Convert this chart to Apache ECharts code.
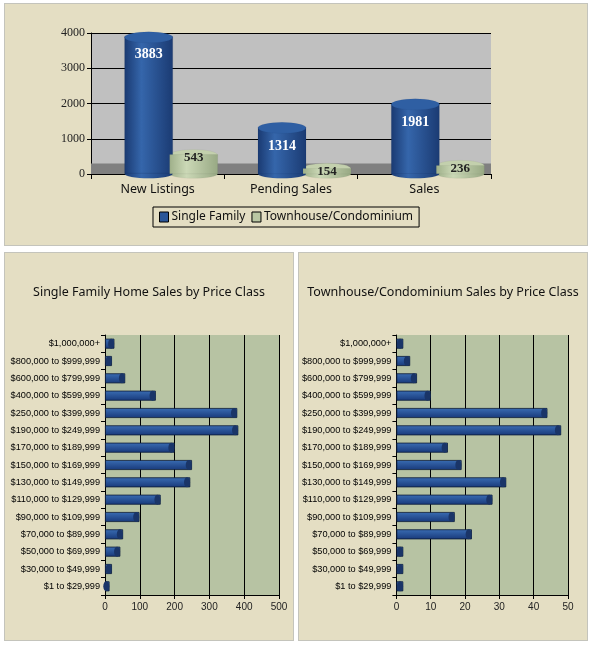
<!DOCTYPE html>
<html lang="en">
<head>
    <meta charset="UTF-8">
    <title>sales</title>
    <style>
        body { margin: 0; background: #fff; width: 591px; height: 646px; position: relative; overflow: hidden; }
        .panel { position: absolute; background: #e4dec3; border: 1px solid #c4c4bc; box-sizing: border-box; }
        .panel div { width: 100%; height: 100%; }
    </style>
</head>
<body>
<div class="panel" style="left:4px;top:3px;width:584px;height:243px;"><div id="top"></div></div>
<div class="panel" style="left:4px;top:252px;width:290px;height:389px;"><div id="left"></div></div>
<div class="panel" style="left:298px;top:252px;width:290px;height:389px;"><div id="right"></div></div>
</body>
<script src="https://cdn.jsdelivr.net/npm/echarts@6/dist/echarts.min.js"></script>
<script>

// --- data ---
const summaryCats = ['New Listings', 'Pending Sales', 'Sales']
const singleFamily = [3883, 1314, 1981]
const townhouse = [543, 154, 236]

const priceClasses = [
    '$1,000,000+', '$800,000 to $999,999', '$600,000 to $799,999', '$400,000 to $599,999',
    '$250,000 to $399,999', '$190,000 to $249,999', '$170,000 to $189,999', '$150,000 to $169,999',
    '$130,000 to $149,999', '$110,000 to $129,999', '$90,000 to $109,999', '$70,000 to $89,999',
    '$50,000 to $69,999', '$30,000 to $49,999', '$1 to $29,999'
]
const sfByPrice = [27, 20, 58, 146, 380, 383, 200, 250, 245, 160, 99, 52, 44, 20, 13]
const thByPrice = [2, 4, 6, 10, 44, 48, 15, 19, 32, 28, 17, 22, 2, 2, 2]

const BLUE = '#2a5699'
const GREEN = '#b9c7a3'

// --- top chart ---
let topChart = echarts.init(document.getElementById('top'))

const blueBody = new echarts.graphic.LinearGradient(0, 0, 1, 0, [
    {offset: 0, color: '#1a3a72'},
    {offset: 0.35, color: '#3566ab'},
    {offset: 1, color: '#1b3b73'}
])
const greenBody = new echarts.graphic.LinearGradient(0, 0, 1, 0, [
    {offset: 0, color: '#9fb08a'},
    {offset: 0.35, color: '#cbd8b6'},
    {offset: 1, color: '#98a984'}
])

// the 3d look puts the bar pair a bit right of the category centre
const BLUE_SHIFT = -9
const GREEN_SHIFT = 36
const CYL = 48

function cylinder(name, values, shift, body, cap, edge, z) {
    return [
        {
            name: name, type: 'pictorialBar', data: values, barGap: '-100%',
            symbol: 'rect', symbolSize: [CYL, '100%'], symbolOffset: [shift, 0],
            itemStyle: {color: body, borderColor: edge, borderWidth: 0.8},
            z: z
        },
        {
            type: 'pictorialBar', data: values, barGap: '-100%', silent: true,
            symbol: 'circle', symbolSize: [CYL, 11], symbolPosition: 'end',
            symbolOffset: [shift, '-50%'],
            itemStyle: {color: cap, borderColor: edge, borderWidth: 0.8},
            z: z + 1
        },
        {
            type: 'pictorialBar', data: values, barGap: '-100%', silent: true,
            symbol: 'circle', symbolSize: [CYL, 9], symbolPosition: 'start',
            symbolOffset: [shift, '50%'],
            itemStyle: {color: body, borderColor: edge, borderWidth: 0.8},
            z: z - 1
        }
    ]
}

let topSeries = []
    .concat(cylinder('Single Family', singleFamily, BLUE_SHIFT, blueBody, '#2f5fa3', '#10264d', 6))
    .concat(cylinder('Townhouse/Condominium', townhouse, GREEN_SHIFT, greenBody, '#c3d0ad', '#333', 3))

topSeries[0].markArea = {silent: true, itemStyle: {color: '#808080'}, data: [[{yAxis: 0}, {yAxis: 300}]]}
topSeries[0].label = {show: true, position: 'insideTop', distance: 12, offset: [BLUE_SHIFT, 0], color: '#fff',
    fontFamily: 'Liberation Serif', fontWeight: 'bold', fontSize: 14}
topSeries[3].label = {show: true, position: 'top', distance: -10, offset: [GREEN_SHIFT, 0], color: '#222',
    fontFamily: 'Liberation Serif', fontWeight: 'bold', fontSize: 13}
topSeries[3].z = 10

let topOption = {
    animation: false,
    grid: {left: 86, top: 29, width: 400, height: 141, show: true, backgroundColor: '#c0c0c0', borderWidth: 0},
    legend: {
        data: [
            {name: 'Single Family', itemStyle: {color: BLUE, borderColor: '#000', borderWidth: 1}},
            {name: 'Townhouse/Condominium', itemStyle: {color: GREEN, borderColor: '#000', borderWidth: 1}}
        ],
        left: 148, top: 203,
        icon: 'rect', itemWidth: 9, itemHeight: 10, itemGap: 6,
        borderColor: '#000', borderWidth: 1, padding: [4, 6],
        textStyle: {fontFamily: 'Noto Sans', fontSize: 12, color: '#111', padding: [0, 0, 0, -2]}
    },
    xAxis: {
        type: 'category', data: summaryCats,
        axisLine: {lineStyle: {color: '#000'}},
        axisTick: {show: true, lineStyle: {color: '#000'}},
        axisLabel: {fontFamily: 'Noto Sans', fontSize: 12.5, color: '#111', margin: 9}
    },
    yAxis: {
        type: 'value', min: 0, max: 4000, interval: 1000,
        axisLine: {show: true, lineStyle: {color: '#000'}},
        axisTick: {show: true, length: 4, lineStyle: {color: '#000'}},
        splitLine: {lineStyle: {color: '#000', width: 1}},
        axisLabel: {fontFamily: 'Liberation Serif', fontSize: 12, color: '#222', margin: 6,
            formatter: v => String(v)}
    },
    series: topSeries
}
topChart.setOption(topOption)

// --- price class charts ---
function priceOption(title, values, max, interval, left) {
    return {
        animation: false,
        title: {
            text: title, left: 'center', top: 28,
            textStyle: {fontFamily: 'Noto Sans', fontSize: 12.5, fontWeight: 'normal', color: '#111'}
        },
        grid: {left: left, top: 82, width: 174, height: 260, show: true, backgroundColor: '#b7c3a3', borderWidth: 0},
        xAxis: {
            type: 'value', min: 0, max: max, interval: interval,
            axisLine: {show: true, lineStyle: {color: '#000'}},
            axisTick: {show: true, length: 4, lineStyle: {color: '#000'}},
            splitLine: {lineStyle: {color: '#000'}},
            axisLabel: {fontFamily: 'Liberation Sans', fontSize: 10, color: '#222', margin: 7}
        },
        yAxis: {
            type: 'category', data: priceClasses, inverse: true,
            axisLine: {show: true, lineStyle: {color: '#000'}},
            axisTick: {show: true, length: 4, lineStyle: {color: '#000'}},
            axisLabel: {fontFamily: 'Liberation Sans', fontSize: 9.2, color: '#000', margin: 5}
        },
        series: [
            {
                type: 'bar', data: values, barWidth: 10,
                itemStyle: {
                    color: new echarts.graphic.LinearGradient(0, 0, 0, 1, [
                        {offset: 0, color: '#3a6db3'},
                        {offset: 1, color: '#18397a'}
                    ]),
                    borderColor: '#0b1a36', borderWidth: 0.8
                }
            },
            {
                // darker round end of each bar
                type: 'pictorialBar', data: values, silent: true,
                symbol: 'circle', symbolSize: [6, 10], symbolPosition: 'end',
                itemStyle: {color: '#1a3568', borderColor: '#0b1a36', borderWidth: 0.6},
                z: 3
            }
        ]
    }
}

let leftChart = echarts.init(document.getElementById('left'))
leftChart.setOption(priceOption('Single Family Home Sales by Price Class', sfByPrice, 500, 100, 100))

let rightChart = echarts.init(document.getElementById('right'))
rightChart.setOption(priceOption('Townhouse/Condominium Sales by Price Class', thByPrice, 50, 10, 95))

</script>
</html>
